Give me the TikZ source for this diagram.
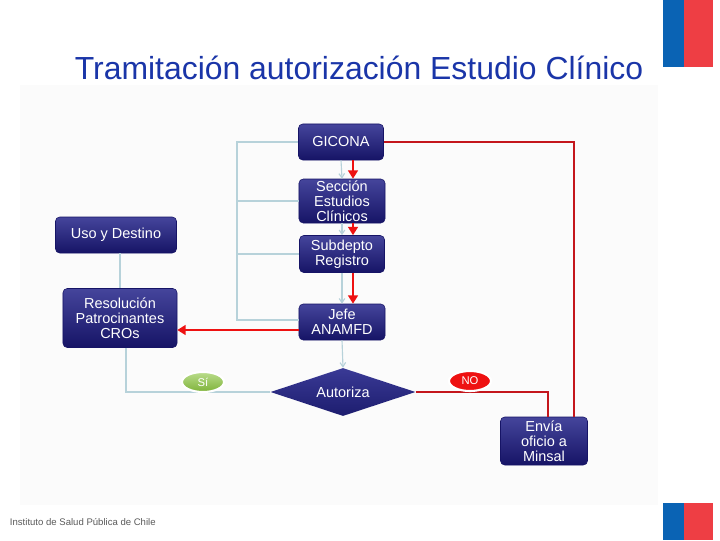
\documentclass[tikz,border=0pt]{standalone}
\usepackage{fontspec}
\setmainfont{Liberation Sans}
\usetikzlibrary{shapes.geometric,arrows.meta}
\definecolor{titulo}{HTML}{1A35A8}
\definecolor{azulcaja}{HTML}{24248A}
\definecolor{azulosc}{HTML}{161466}
\definecolor{lineaclara}{HTML}{B7D2DA}
\definecolor{rojoosc}{HTML}{C4161C}
\definecolor{rojovivo}{HTML}{EE1111}
\definecolor{verdesi}{HTML}{8CC63F}
\definecolor{bandazul}{HTML}{0A63B4}
\definecolor{bandrojo}{HTML}{EE3E44}
\begin{document}
\begin{tikzpicture}[x=0.025cm, y=-0.025cm,
    caja/.style={rounded corners=3pt, top color=azulcaja!85!white, bottom color=azulosc,
                 draw=azulosc, text=white, align=center, inner sep=1pt,
                 font=\fontsize{10.3}{10.8}\selectfont},
    rombo/.style={diamond, aspect=3, top color=azulcaja!90!white, bottom color=azulcaja!80!black,
                  text=white, inner sep=0pt,
                  minimum width=3.625cm, minimum height=1.2cm,
                  font=\fontsize{10.3}{11}\selectfont},
    etiqueta/.style={ellipse, minimum width=1.05cm, minimum height=0.5cm, inner sep=0pt,
                     draw=white, line width=1.5pt, text=white, font=\fontsize{8}{9}\selectfont},
    clara/.style={draw=lineaclara, line width=0.8pt},
    flechaclara/.style={clara, -{Straight Barb[length=3pt, width=4pt]}},
    roja/.style={draw=rojoosc, line width=1.6pt},
    flecharoja/.style={draw=rojovivo, line width=2pt, -{Triangle[length=6pt, width=7pt]}}
]
    \useasboundingbox (0,0) rectangle (720,540);
    \fill[black!1.5] (20,85) rectangle (658,505);

    % banderas y textos de la plantilla
    \fill[bandazul] (663,0) rectangle (684,67);
    \fill[bandrojo] (684,0) rectangle (713,67);
    \fill[bandazul] (663,503) rectangle (684,540);
    \fill[bandrojo] (684,503) rectangle (713,540);
    \node[text=titulo, font=\fontsize{22.7}{26}\selectfont] (tit) at (359,68)
        {Tramitación autorización Estudio Clínico};
    \node[anchor=west, text=black!65, font=\fontsize{6.8}{8}\selectfont] (pie) at (5,522)
        {Instituto de Salud Pública de Chile};

    % cajas
    \node[caja, minimum width=2.125cm, minimum height=0.9cm] (gicona) at (341,142) {GICONA};
    \node[caja, minimum width=2.15cm, minimum height=1.025cm] (seccion) at (342,201)
        {Sección\\Estudios\\Clínicos};
    \node[caja, minimum width=2.125cm, minimum height=0.925cm] (subdepto) at (342,254)
        {Subdepto\\Registro};
    \node[caja, minimum width=2.15cm, minimum height=0.9cm] (jefe) at (342,322)
        {Jefe\\ANAMFD};
    \node[caja, minimum width=3.025cm, minimum height=0.9cm] (uso) at (116,235) {Uso y Destino};
    \node[caja, minimum width=2.85cm, minimum height=1.475cm] (resol) at (120,318)
        {Resolución\\Patrocinantes\\CROs};
    \node[caja, minimum width=2.175cm, minimum height=1.2cm] (envia) at (544,441)
        {Envía\\oficio a\\Minsal};
    \node[rombo] (autoriza) at (343,392) {Autoriza};

    % conectores claros
    \draw[clara] (gicona.west) -- (237,142) |- (jefe.west |- 0,320);
    \draw[clara] (237,201) -- (seccion.west);
    \draw[clara] (237,254) -- (subdepto.west);
    \draw[flechaclara] (gicona.south) -- (seccion.north);
    \draw[flechaclara] (seccion.south) -- (subdepto.north);
    \draw[flechaclara] (subdepto.south) -- (jefe.north);
    \draw[flechaclara] (jefe.south) -- (autoriza.north);
    \draw[clara] (uso.south -| 120,0) -- (resol.north -| 120,0);
    \draw[clara] (resol.south -| 126,0) |- (autoriza.west);

    % conectores rojos
    \draw[roja] (gicona.east) -| (envia.north -| 574,0);
    \draw[roja] (autoriza.east) -| (envia.north -| 548,0);
    \draw[flecharoja] (gicona.south -| 353,0) -- (seccion.north -| 353,0);
    \draw[flecharoja] (seccion.south -| 353,0) -- (subdepto.north -| 353,0);
    \draw[flecharoja] (subdepto.south -| 353,0) -- (jefe.north -| 353,0);
    \draw[flecharoja] (jefe.west |- 0,330) -- (resol.east |- 0,330);

    \node[etiqueta, top color=verdesi!60!white, bottom color=verdesi!90!black] (si) at (203,382) {Sí};
    \node[etiqueta, fill=rojovivo] (no) at (470,381) {NO};
\end{tikzpicture}
\end{document}
